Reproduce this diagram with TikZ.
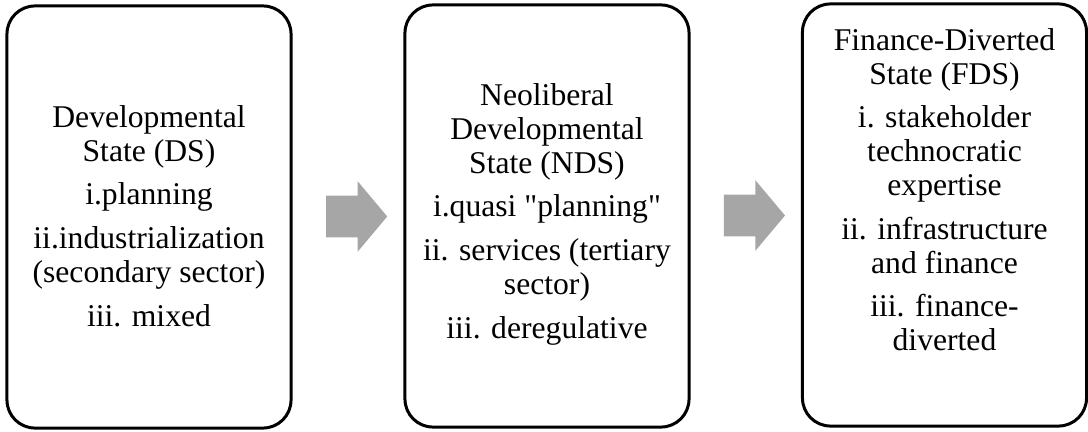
\documentclass[tikz,border=0pt]{standalone}
\usepackage{fontspec}
\setmainfont{Liberation Serif}[Ligatures=TeXOff]
\usetikzlibrary{shapes.arrows,calc}
\definecolor{arrowgray}{RGB}{166,166,166}

\begin{document}
\begin{tikzpicture}[x=0.025cm,y=-0.025cm,
  stagebox/.style={draw,line width=0.075cm,rounded corners=0.7cm,
    minimum width=7.1cm,minimum height=10.55cm},
  stagetext/.style={anchor=north,align=center,inner sep=0pt,
    font=\fontsize{22.5}{24.1}\selectfont},
  shiftarrow/.style={single arrow,fill=arrowgray,draw=none,
    inner xsep=0pt,inner ysep=0.5125cm,minimum height=1.525cm,
    single arrow head extend=0.3625cm,single arrow tip angle=100}
]
\useasboundingbox (0,0) rectangle (1088,432);
\node[stagebox] (ds) at (149,217) {};
\node[stagebox] (nds) at (547,216) {};
\node[stagebox] (fds) at (944.5,215) {};
\node[stagetext] (dstext) at (149,105) {Developmental\\State (DS)\\[7pt]i.planning\\[7pt]ii.industrialization\\(secondary sector)\\[7pt]iii. mixed};
\node[stagetext] (ndstext) at (547,83) {Neoliberal\\Developmental\\State (NDS)\\[7pt]i.quasi "planning"\\[7pt]ii. services (tertiary\\sector)\\[7pt]iii. deregulative};
\node[stagetext] (fdstext) at (944.5,28) {Finance-Diverted\\State (FDS)\\[7pt]i. stakeholder\\technocratic\\expertise\\[7pt]ii. infrastructure\\and finance\\[7pt]iii. finance-\\diverted};
\node[shiftarrow] (ds2nds) at ($(ds.east)!0.5!(nds.west)$) {};
\node[shiftarrow] (nds2fds) at ($(nds.east)!0.5!(fds.west)$) {};
\end{tikzpicture}
\end{document}
